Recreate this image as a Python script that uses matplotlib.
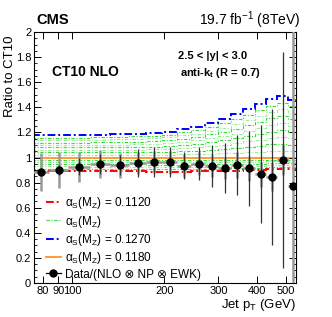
import numpy as np
import matplotlib
matplotlib.use("Agg")
import matplotlib.pyplot as plt
from matplotlib.lines import Line2D

plt.rcParams["font.family"] = ["Liberation Sans", "DejaVu Sans"]
plt.rcParams["mathtext.fontset"] = "custom"
plt.rcParams["mathtext.rm"] = "Liberation Sans"
plt.rcParams["mathtext.it"] = "Liberation Sans:italic"
plt.rcParams["mathtext.bf"] = "Liberation Sans:bold"

# Jet pT bin edges (GeV)
edges = [74, 84, 97, 114, 133, 153, 174, 196, 220, 245, 272, 300,
         330, 362, 395, 430, 468, 507, 548]

# Data / (NLO x NP x EWK)
data = [0.887, 0.900, 0.927, 0.946, 0.938, 0.956, 0.964, 0.962, 0.935,
        0.951, 0.932, 0.916, 0.940, 0.914, 0.868, 0.845, 0.980, 0.773]
err_stat = [0.03, 0.04, 0.07, 0.08, 0.08, 0.11, 0.12, 0.12, 0.11,
            0.13, 0.17, 0.20, 0.24, 0.30, 0.39, 0.54, 0.86, 0.0]
err_syst = [0.15, 0.14, 0.12, 0.11, 0.10, 0.09, 0.09, 0.09, 0.09,
            0.09, 0.09, 0.09, 0.10, 0.10, 0.10, 0.11, 0.12, 1.50]

# theory ratios to CT10 (alpha_s = 0.118)
as_0112 = [0.893, 0.893, 0.892, 0.891, 0.890, 0.889, 0.888, 0.888, 0.888,
           0.889, 0.890, 0.892, 0.895, 0.898, 0.902, 0.906, 0.908, 0.905]
as_0127 = [1.179, 1.179, 1.179, 1.180, 1.185, 1.190, 1.195, 1.206, 1.227,
           1.245, 1.277, 1.307, 1.344, 1.384, 1.426, 1.466, 1.492, 1.458]
as_0118 = [1.0] * 18

as_others = [
    [0.911, 0.911, 0.910, 0.909, 0.908, 0.908, 0.907, 0.907, 0.907,
     0.908, 0.908, 0.910, 0.913, 0.915, 0.918, 0.922, 0.923, 0.921],
    [0.929, 0.929, 0.928, 0.927, 0.927, 0.926, 0.925, 0.925, 0.925,
     0.926, 0.927, 0.928, 0.930, 0.932, 0.935, 0.937, 0.939, 0.937],
    [0.947, 0.947, 0.946, 0.946, 0.945, 0.945, 0.944, 0.944, 0.944,
     0.945, 0.945, 0.946, 0.948, 0.949, 0.951, 0.953, 0.954, 0.953],
    [0.964, 0.964, 0.964, 0.964, 0.963, 0.963, 0.963, 0.963, 0.963,
     0.963, 0.963, 0.964, 0.965, 0.966, 0.967, 0.969, 0.969, 0.968],
    [0.982, 0.982, 0.982, 0.982, 0.982, 0.982, 0.981, 0.981, 0.981,
     0.982, 0.982, 0.982, 0.983, 0.983, 0.984, 0.984, 0.985, 0.984],
    [1.020, 1.020, 1.020, 1.020, 1.021, 1.021, 1.022, 1.023, 1.025,
     1.027, 1.031, 1.034, 1.038, 1.043, 1.047, 1.052, 1.055, 1.051],
    [1.040, 1.040, 1.040, 1.040, 1.041, 1.042, 1.043, 1.046, 1.050,
     1.054, 1.062, 1.068, 1.076, 1.085, 1.095, 1.104, 1.109, 1.102],
    [1.060, 1.060, 1.060, 1.060, 1.062, 1.063, 1.065, 1.069, 1.076,
     1.082, 1.092, 1.102, 1.115, 1.128, 1.142, 1.155, 1.164, 1.153],
    [1.080, 1.080, 1.080, 1.080, 1.082, 1.084, 1.087, 1.092, 1.101,
     1.109, 1.123, 1.136, 1.153, 1.171, 1.189, 1.207, 1.219, 1.204],
    [1.099, 1.099, 1.099, 1.100, 1.103, 1.106, 1.108, 1.114, 1.126,
     1.136, 1.154, 1.171, 1.191, 1.213, 1.237, 1.259, 1.273, 1.254],
    [1.119, 1.119, 1.119, 1.120, 1.123, 1.127, 1.130, 1.137, 1.151,
     1.163, 1.185, 1.205, 1.229, 1.256, 1.284, 1.311, 1.328, 1.305],
    [1.139, 1.139, 1.139, 1.140, 1.144, 1.148, 1.152, 1.160, 1.177,
     1.191, 1.215, 1.239, 1.268, 1.299, 1.331, 1.362, 1.383, 1.356],
    [1.159, 1.159, 1.159, 1.160, 1.164, 1.169, 1.173, 1.183, 1.202,
     1.218, 1.246, 1.273, 1.306, 1.341, 1.379, 1.414, 1.437, 1.407],
]

xticks = [80, 90, 100, 200, 300, 400, 500]

edges_a = np.array(edges, dtype=float)
centers = 0.5 * (edges_a[1:] + edges_a[:-1])
halfw = 0.5 * (edges_a[1:] - edges_a[:-1])

fig = plt.figure(figsize=(3.32, 3.17), dpi=100)
ax = fig.add_axes([34 / 332, 1 - 283 / 317, 262 / 332, 251 / 317])

dashdot = (0, (4, 1.5, 1, 1.5))
greens = ["#33dd33", "#99ee99"]
for i, vals in enumerate(as_others):
    ax.stairs(vals, edges, baseline=None, color=greens[i % 2], lw=0.8,
              linestyle=(0, (3, 1.5, 1, 1.5)))
ax.stairs(as_0112, edges, baseline=None, color="red", lw=1.4, linestyle=dashdot)
ax.stairs(as_0127, edges, baseline=None, color="blue", lw=1.4, linestyle=dashdot)
ax.stairs(as_0118, edges, baseline=None, color="#ff9933", lw=1.4)

# data points: systematic (grey) and statistical (black) uncertainties
ax.errorbar(centers, data, yerr=err_syst, xerr=halfw, fmt="none",
            ecolor="#999999", elinewidth=1.8, capsize=0, zorder=4)
ax.errorbar(centers, data, yerr=err_stat, fmt="o", color="black",
            ecolor="#333333", elinewidth=0.9, ms=5, capsize=0, zorder=5)

ax.set_xscale("log")
ax.set_xlim(75, 538)
ax.set_ylim(0, 2)
ax.set_xticks(xticks)
ax.set_xticklabels([str(t) for t in xticks])
ax.xaxis.set_minor_locator(matplotlib.ticker.NullLocator())
ax.set_yticks(np.arange(0, 2.01, 0.2))
ax.set_yticklabels(["0", "0.2", "0.4", "0.6", "0.8", "1", "1.2", "1.4",
                    "1.6", "1.8", "2"])
ax.yaxis.set_minor_locator(matplotlib.ticker.MultipleLocator(0.05))
ax.tick_params(which="both", direction="in", top=True, right=True,
               labelsize=8, pad=2)
ax.tick_params(which="major", length=5, width=0.7)
ax.tick_params(which="minor", length=2.5, width=0.6)
for s in ax.spines.values():
    s.set_linewidth(0.8)

fig.text(10 / 332, 1 - 76 / 317, "Ratio to CT10", rotation=90,
         fontsize=9.5, ha="center", va="center")
ax.set_xlabel("Jet p$_{\\mathrm{T}}$ (GeV)", loc="right", fontsize=9.5,
              labelpad=1)

fig.text(36 / 332, 1 - 20 / 317, "CMS", fontsize=10.5, fontweight="bold",
         ha="left", va="center")
fig.text(300 / 332, 1 - 20 / 317, "19.7 fb$^{-1}$ (8TeV)", fontsize=10,
         ha="right", va="center")
ax.text(0.069, 0.841, "CT10 NLO", transform=ax.transAxes, fontsize=10,
        fontweight="bold", ha="left", va="center")
ax.text(0.55, 0.904, "2.5 < |y| < 3.0", transform=ax.transAxes,
        fontsize=8, fontweight="bold", ha="left", va="center")
ax.text(0.557, 0.837, "anti-k$_{\\mathbf{t}}$ (R = 0.7)",
        transform=ax.transAxes, fontsize=8, fontweight="bold",
        ha="left", va="center")

handles = [
    Line2D([], [], color="red", lw=1.4, linestyle=dashdot),
    Line2D([], [], color="#33dd33", lw=0.8, linestyle=(0, (3, 1.5, 1, 1.5))),
    Line2D([], [], color="blue", lw=1.4, linestyle=dashdot),
    Line2D([], [], color="#ff9933", lw=1.4),
    Line2D([], [], color="black", lw=0.9, marker="o", ms=5),
]
labels = [
    "α$_{\\mathrm{S}}$(M$_{\\mathrm{Z}}$) = 0.1120",
    "α$_{\\mathrm{S}}$(M$_{\\mathrm{Z}}$)",
    "α$_{\\mathrm{S}}$(M$_{\\mathrm{Z}}$) = 0.1270",
    "α$_{\\mathrm{S}}$(M$_{\\mathrm{Z}}$) = 0.1180",
    "Data/(NLO ⊗ NP ⊗ EWK)",
]
ax.legend(handles, labels, loc="upper left", bbox_to_anchor=(0.045, 0.35),
          frameon=False, fontsize=8.5, handlelength=1.3, handletextpad=0.3,
          labelspacing=0.2, borderaxespad=0, borderpad=0)

fig.savefig("out.png", dpi=100)
